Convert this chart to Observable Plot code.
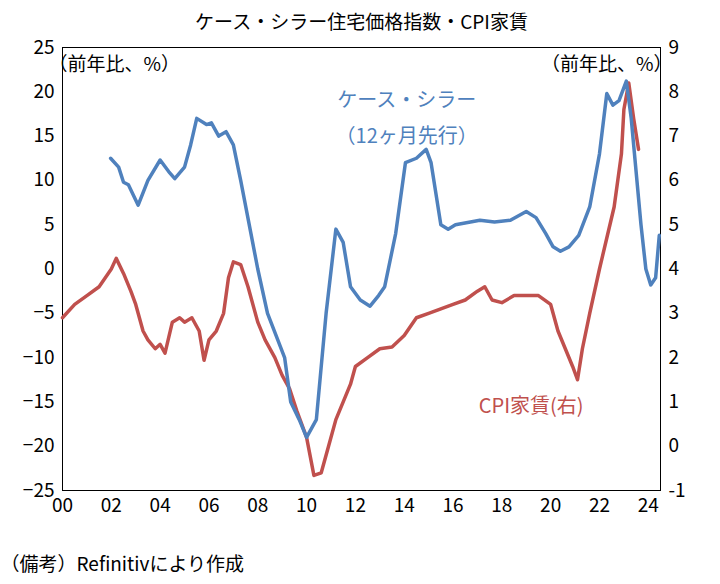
<!DOCTYPE html><html><head><meta charset="utf-8">
<script src="https://cdn.jsdelivr.net/npm/d3@7"></script>
<script src="https://cdn.jsdelivr.net/npm/@observablehq/plot@0.6"></script>
<style>body{margin:0;background:#fff;font-family:"Noto Sans CJK JP";}</style></head><body><div id="c"></div>
<script>
const csYear=[2001.97,2002.3,2002.5,2002.7,2003.1,2003.5,2004.0,2004.35,2004.6,2005.0,2005.25,2005.5,2005.9,2006.1,2006.4,2006.7,2007.0,2007.3,2008.0,2008.4,2009.1,2009.35,2009.7,2010.0,2010.4,2010.8,2011.2,2011.5,2011.8,2012.2,2012.6,2012.95,2013.2,2013.65,2014.05,2014.5,2014.9,2015.1,2015.5,2015.8,2016.1,2017.1,2017.7,2018.35,2019.0,2019.4,2019.8,2020.1,2020.4,2020.75,2021.15,2021.6,2022.0,2022.3,2022.55,2022.8,2023.1,2023.3,2023.7,2023.9,2024.1,2024.3,2024.45];
const csVal=[12.5,11.5,9.8,9.5,7.2,10,12.3,11,10.2,11.5,14,17,16.3,16.5,15,15.5,14,10,0,-5,-10,-15,-17,-19,-17,-5,4.5,3,-2,-3.5,-4.2,-3,-2,4,12,12.5,13.5,12,5,4.5,5,5.5,5.3,5.5,6.5,5.8,4,2.5,2,2.5,3.8,7,13,19.8,18.5,19,21.2,17,5,0,-1.8,-1,3.8];
const rentYear=[2000,2000.5,2001,2001.5,2002,2002.2,2002.5,2002.8,2003,2003.3,2003.5,2003.8,2004,2004.2,2004.5,2004.8,2005,2005.3,2005.6,2005.8,2006,2006.3,2006.6,2006.8,2007,2007.3,2007.6,2008,2008.3,2008.7,2009,2009.3,2009.6,2010,2010.3,2010.6,2010.9,2011.2,2011.5,2011.8,2012,2012.5,2013,2013.5,2014,2014.5,2015,2015.5,2016,2016.5,2017,2017.3,2017.6,2018,2018.5,2019,2019.5,2020,2020.3,2020.6,2020.9,2021.1,2021.3,2021.6,2022,2022.3,2022.6,2022.9,2023.0,2023.2,2023.4,2023.6];
const rentVal=[2.9,3.2,3.4,3.6,4.0,4.24,3.9,3.5,3.2,2.6,2.4,2.2,2.3,2.1,2.8,2.9,2.8,2.9,2.6,1.94,2.4,2.6,3.0,3.8,4.16,4.1,3.6,2.8,2.4,2.0,1.6,1.3,0.8,0.2,-0.66,-0.6,0.0,0.6,1.0,1.4,1.8,2.0,2.2,2.24,2.5,2.9,3.0,3.1,3.2,3.3,3.5,3.6,3.3,3.24,3.4,3.4,3.4,3.2,2.6,2.2,1.8,1.5,2.2,3.0,4.0,4.7,5.4,6.6,7.6,8.2,7.4,6.7];
const xTicks=d3.range(0,25,2), yTicks=d3.range(-25,26,5), rTicks=d3.range(-1,10,1);
const cs=csYear.map((x,i)=>({x:x-2000,y:csVal[i]}));
const rent=rentYear.map((x,i)=>({x:x-2000,y:(rentVal[i]-4)*5}));
const blue="#4f81bd", red="#c0504d";
const fam='"Noto Sans CJK JP"';
const chart=Plot.plot({width:720,height:584,marginLeft:62,marginRight:60,marginTop:47,marginBottom:94,
 style:{fontFamily:fam,fontSize:"19px",color:"#000"},
 x:{domain:[0,24.5],ticks:xTicks,tickFormat:d=>String(d).padStart(2,"0"),tickSize:0,tickPadding:8,label:null},
 y:{domain:[-25,25],ticks:yTicks,tickSize:0,label:null},
 marks:[
  Plot.frame({stroke:"#000"}),
  Plot.axisY({ticks:yTicks,tickSize:0,anchor:"left",label:null,tickPadding:8}),
  Plot.axisY(rTicks.map(r=>(r-4)*5),{anchor:"right",tickSize:0,tickPadding:8,tickFormat:v=>String(Math.round(v/5+4)),label:null}),
  Plot.line(rent,{x:"x",y:"y",stroke:red,strokeWidth:3.5}),
  Plot.line(cs,{x:"x",y:"y",stroke:blue,strokeWidth:3.5}),
  Plot.text(["（前年比、%）"],{frameAnchor:"top-left",dx:-14,dy:10,fontSize:19,textAnchor:"start"}),
  Plot.text(["（前年比、%）"],{frameAnchor:"top-right",dx:12,dy:10,fontSize:19,textAnchor:"end"}),
  Plot.text(["ケース・シラー"],{x:14.1,y:19,fill:blue,fontSize:20}),
  Plot.text(["（12ヶ月先行）"],{x:14.1,y:15,fill:blue,fontSize:20}),
  Plot.text(["CPI家賃(右)"],{x:19.2,y:-15.5,fill:red,fontSize:20}),
  Plot.text(["ケース・シラー住宅価格指数・CPI家賃"],{frameAnchor:"top",dy:-32,fontSize:19}),
  Plot.text(["（備考）Refinitivにより作成"],{frameAnchor:"bottom-left",dx:-62,dy:80,fontSize:19,textAnchor:"start"})
 ]});
document.getElementById("c").append(chart);
</script></body></html>
